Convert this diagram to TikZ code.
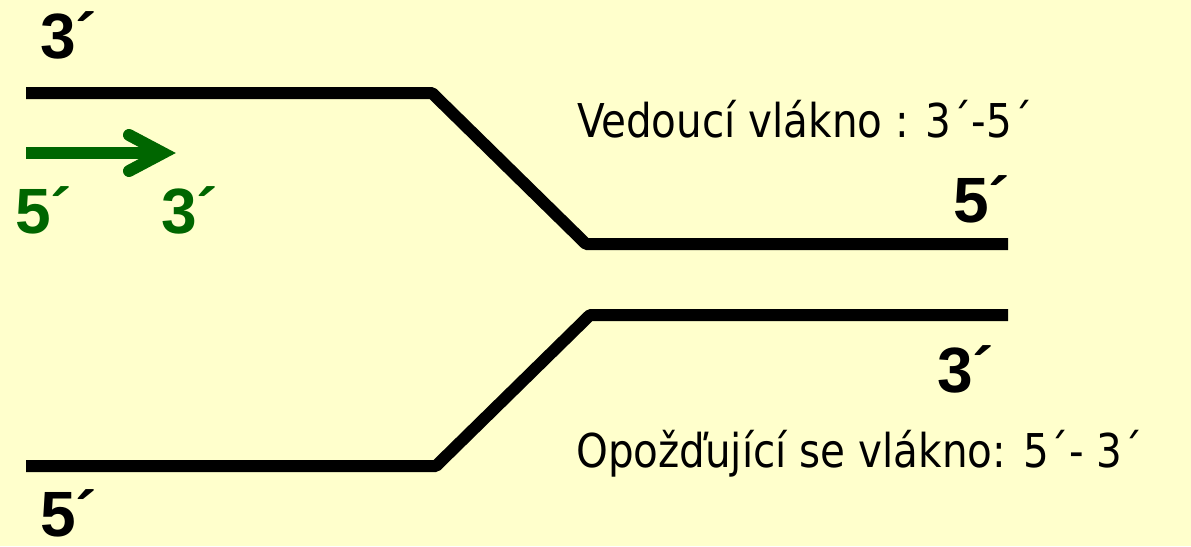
\documentclass[tikz,border=0pt]{standalone}
\usepackage{fontspec}
\setmainfont{DejaVu Sans Condensed}
\newfontfamily\labelfont{Liberation Sans}
\definecolor{paper}{HTML}{FFFFCC}
\definecolor{leafgreen}{HTML}{006600}
\begin{document}
\begin{tikzpicture}[x=1pt,y=-1pt,
  strand/.style={line width=12pt, line cap=butt, line join=bevel, draw=black},
  direction/.style={line width=12pt, draw=leafgreen},
  endlabel/.style={anchor=base west, inner sep=0pt, font=\labelfont\bfseries\fontsize{64}{70}\selectfont},
  caption/.style={anchor=base west, inner sep=0pt, xscale=0.965, font=\fontsize{46.6}{56}\selectfont}]
  % background and page size
  \fill[paper] (0,0) rectangle (1191,546);
  \useasboundingbox (0,0) rectangle (1191,546);

  % leading strand (upper) and lagging strand (lower)
  \coordinate (u1) at (26,93);
  \coordinate (u2) at (432,93);
  \coordinate (u3) at (586,244);
  \coordinate (u4) at (1008,244);
  \coordinate (l1) at (26,466);
  \coordinate (l2) at (436,466);
  \coordinate (l3) at (590,315);
  \coordinate (l4) at (1008,315);
  \draw[strand] (u1) -- (u2) -- (u3) -- (u4);
  \draw[strand] (l1) -- (l2) -- (l3) -- (l4);

  % synthesis direction arrow
  \coordinate (a0) at (26,153);
  \coordinate (a1) at (160,153);
  \coordinate (tip) at (163,153);
  \coordinate (b1) at (129,135);
  \coordinate (b2) at (129,171);
  \draw[direction, line cap=butt] (a0) -- (a1);
  \draw[direction, line cap=round, line join=miter] (b1) -- (tip) -- (b2);

  % strand end labels
  \node[endlabel] (e1) at (40,58) {3´};
  \node[endlabel, text=leafgreen] (g5) at (15,233) {5´};
  \node[endlabel, text=leafgreen] (g3) at (161,233) {3´};
  \node[endlabel] (e2) at (953,222) {5´};
  \node[endlabel] (e3) at (937,392) {3´};
  \node[endlabel] (e4) at (40,536) {5´};

  % captions
  \node[caption] (c1) at (577,137) {Vedoucí vlákno : 3´-5´};
  \node[caption] (c2) at (576,467) {Opožďující se vlákno: 5´- 3´};
\end{tikzpicture}
\end{document}
